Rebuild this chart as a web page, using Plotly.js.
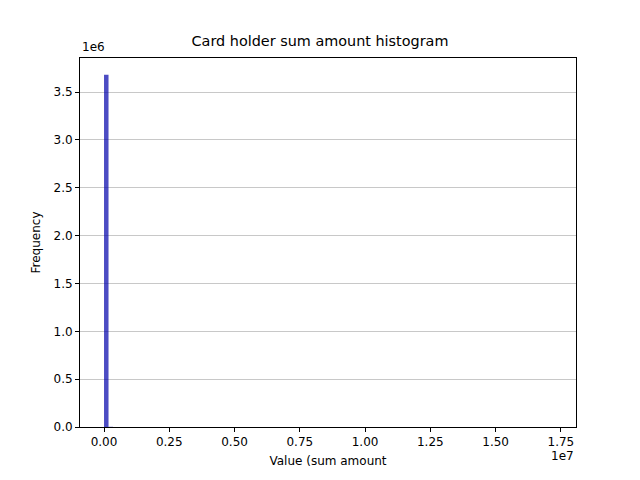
<!DOCTYPE html>
<html>
<head>
<meta charset="utf-8">
<script src="https://cdn.plot.ly/plotly-3.0.1.min.js"></script>
<style>body{margin:0;}#plot{width:640px;height:480px;}</style>
</head>
<body>
<div id="plot"></div>
<script>
// histogram bins (left edges in units of sum amount) and counts
var binWidth = 172700;
var binStarts = [0, 172700, 345400, 518100, 690800, 17097300];
var binCounts = [3680000, 2100, 310, 60, 15, 1];

var xTickVals = [0, 2.5e6, 5e6, 7.5e6, 1e7, 1.25e7, 1.5e7, 1.75e7];
var xTickText = ["0.00", "0.25", "0.50", "0.75", "1.00", "1.25", "1.50", "1.75"];
var yTickVals = [0, 5e5, 1e6, 1.5e6, 2e6, 2.5e6, 3e6, 3.5e6];
var yTickText = ["0.0", "0.5", "1.0", "1.5", "2.0", "2.5", "3.0", "3.5"];

var centers = binStarts.map(function(s) { return s + binWidth / 2; });

var trace = {
    x: centers,
    y: binCounts,
    type: 'bar',
    width: binWidth,
    marker: {color: 'rgba(0,0,170,0.7)', line: {width: 0}},
    hoverinfo: 'x+y'
};

var font = {family: 'DejaVu Sans', size: 12, color: '#000'};

var layout = {
    width: 640, height: 480,
    margin: {l: 80, r: 64, t: 58, b: 53},
    paper_bgcolor: '#fff', plot_bgcolor: '#fff',
    font: font,
    title: {text: 'Card holder sum amount histogram', font: {family: 'DejaVu Sans', size: 14.4}, x: 0.5, xanchor: 'center', y: 0.925},
    xaxis: {
        range: [-9.2e5, 1.808e7],
        tickvals: xTickVals, ticktext: xTickText,
        showgrid: false, zeroline: false,
        showline: true, mirror: true, linecolor: '#000', linewidth: 1,
        ticks: 'outside', ticklen: 4, tickcolor: '#000',
        title: {text: 'Value (sum amount', font: font, standoff: 8}
    },
    yaxis: {
        range: [0, 3.856e6],
        tickvals: yTickVals, ticktext: yTickText,
        showgrid: true, gridcolor: '#c8c8c8', gridwidth: 1,
        zeroline: false,
        showline: true, mirror: true, linecolor: '#000', linewidth: 1,
        ticks: 'outside', ticklen: 4, tickcolor: '#000',
        title: {text: 'Frequency', font: font, standoff: 10}
    },
    annotations: [
        {text: '1e6', xref: 'paper', yref: 'paper', x: 0, y: 1, xanchor: 'left', yanchor: 'bottom', showarrow: false, font: font, yshift: 2},
        {text: '1e7', xref: 'paper', yref: 'paper', x: 1, y: 0, xanchor: 'right', yanchor: 'top', showarrow: false, font: font, yshift: -20}
    ],
    showlegend: false
};

Plotly.newPlot('plot', [trace], layout, {displayModeBar: false});
</script>
</body>
</html>
